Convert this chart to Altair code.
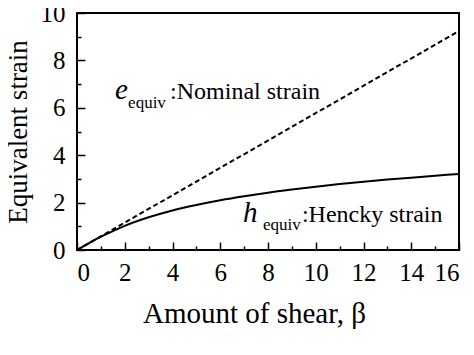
import altair as alt
import pandas as pd

# Nominal (dashed, straight) equivalent strain
nom_beta = [0, 16]
nom_val = [0, 9.24]

# Hencky (solid) equivalent strain
hen_beta = [0, 0.5, 1, 1.5, 2, 3, 4, 5, 6, 7, 8, 9, 10, 11, 12, 13, 14, 15, 16]
hen_val = [0, 0.29, 0.56, 0.80, 1.02, 1.38, 1.67, 1.90, 2.10, 2.27, 2.42, 2.55, 2.67,
           2.78, 2.88, 2.97, 3.05, 3.13, 3.21]

x_major = [0, 2, 4, 6, 8, 10, 12, 14, 16]
x_minor = [1, 3, 5, 7, 9, 11, 13, 15]
y_major = [0, 2, 4, 6, 8, 10]
y_minor = [1, 3, 5, 7, 9]

FONT = "Liberation Serif"

nom = pd.DataFrame({"beta": nom_beta, "v": nom_val})
hen = pd.DataFrame({"beta": hen_beta, "v": hen_val})

xs = alt.Scale(domain=[0, 16], nice=False)
ys = alt.Scale(domain=[0, 10], nice=False)

x_major_axis = alt.Axis(orient="bottom", values=x_major, offset=-8, tickSize=8,
                        labelPadding=10, format="d", labelFont=FONT,
                        title="Amount of shear,  β", titlePadding=14, titleX=177,
                        titleFontSize=29)
y_major_axis = alt.Axis(orient="left", values=y_major, offset=-8, tickSize=8,
                        labelPadding=12, format="d", labelFont=FONT,
                        title="Equivalent strain", titlePadding=8, titleFontSize=27)
x_minor_axis = alt.Axis(orient="bottom", values=x_minor, offset=-4, tickSize=4,
                        labels=False, title=None)
y_minor_axis = alt.Axis(orient="left", values=y_minor, offset=-4, tickSize=4,
                        labels=False, title=None)

nom_line = alt.Chart(nom).mark_line(color="black", strokeWidth=2, strokeDash=[5, 3]).encode(
    x=alt.X("beta:Q", scale=xs, axis=x_major_axis),
    y=alt.Y("v:Q", scale=ys, axis=y_major_axis),
)
hen_line = alt.Chart(hen).mark_line(color="black", strokeWidth=2, interpolate="monotone").encode(
    x=alt.X("beta:Q", scale=xs, axis=x_minor_axis),
    y=alt.Y("v:Q", scale=ys, axis=y_minor_axis),
)

# annotations: main letters, subscripts, descriptions (data coords)
main_txt = pd.DataFrame({"beta": [1.59, 6.95], "v": [6.37, 1.18], "t": ["e", "h"]})
sub_txt = pd.DataFrame({"beta": [2.14, 7.79], "v": [5.99, 0.84], "t": ["equiv", "equiv"]})
desc_txt = pd.DataFrame({"beta": [3.9, 9.42], "v": [6.37, 1.18],
                         "t": [":Nominal strain", ":Hencky strain"]})

main = alt.Chart(main_txt).mark_text(font=FONT, fontSize=29, fontStyle="italic", align="left",
                                     baseline="alphabetic", color="black").encode(
    x=alt.X("beta:Q", scale=xs, axis=None), y=alt.Y("v:Q", scale=ys, axis=None), text="t:N")
sub = alt.Chart(sub_txt).mark_text(font=FONT, fontSize=17, align="left",
                                   baseline="alphabetic", color="black").encode(
    x=alt.X("beta:Q", scale=xs, axis=None), y=alt.Y("v:Q", scale=ys, axis=None), text="t:N")
desc = alt.Chart(desc_txt).mark_text(font=FONT, fontSize=24, align="left",
                                     baseline="alphabetic", color="black").encode(
    x=alt.X("beta:Q", scale=xs, axis=None), y=alt.Y("v:Q", scale=ys, axis=None), text="t:N")

chart = alt.layer(nom_line, hen_line, main, sub, desc).resolve_axis(
    x="independent", y="independent"
).properties(
    width=382, height=237,
    autosize=alt.AutoSizeParams(type="none"),
    padding={"left": 69, "top": 5, "right": 7, "bottom": 97},
).configure(font=FONT, background="white").configure_view(
    stroke="black", strokeWidth=2
).configure_axis(
    domain=False, grid=False, tickColor="black", tickWidth=1.5,
    labelFont=FONT, labelFontSize=25, labelColor="black",
    titleFont=FONT, titleFontWeight="normal", titleColor="black",
)

chart.save("out.html", embed_options={"renderer": "svg", "actions": False})
